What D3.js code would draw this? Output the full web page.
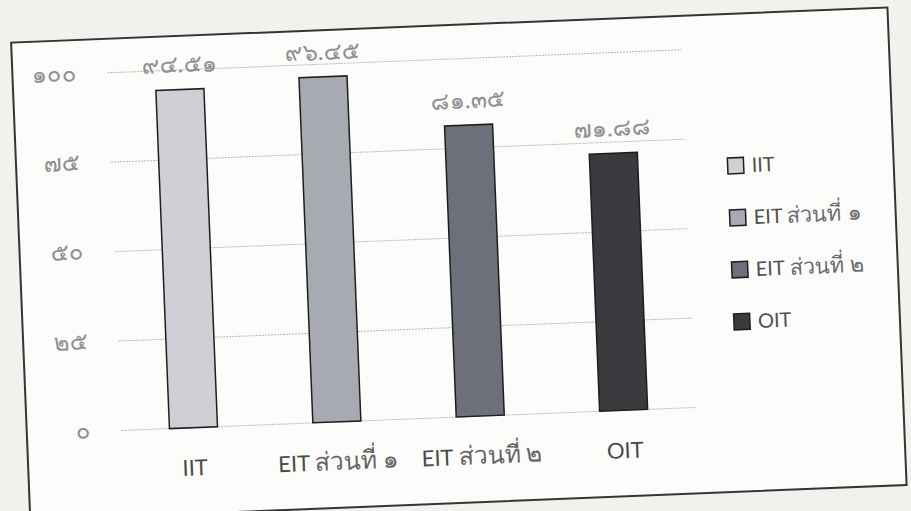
<!DOCTYPE html>
<html>
<head>
<meta charset="utf-8">
<script src="https://cdn.jsdelivr.net/npm/d3@7"></script>
<style>
  html, body { margin: 0; padding: 0; background: #f1f1ee; }
  svg { display: block; }
  text { font-family: Lato, "Noto Sans", sans-serif; }
</style>
</head>
<body>
<svg id="chart" width="911" height="511"></svg>
<script>
// Score per test section
const categories = ["IIT", "EIT ส่วนที่ ๑", "EIT ส่วนที่ ๒", "OIT"];
const values = [94.51, 96.45, 81.35, 71.88];
const barColors = ["#cfd0d5", "#a8aab2", "#6d707a", "#3a3a3f"];
const yTicks = [0, 25, 50, 75, 100];
const yTickLabels = ["๐", "๒๕", "๕๐", "๗๕", "๑๐๐"];

const thaiDigits = "๐๑๒๓๔๕๖๗๘๙";
const toThai = s => String(s).replace(/[0-9]/g, d => thaiDigits[+d]);

// Thai glyphs in the fallback face run small, so Thai runs get their own size
function mixedText(textSel, latinSize, thaiSize) {
  textSel.each(function(str) {
    const t = d3.select(this);
    str.split(/([\u0E00-\u0E7F]+)/).filter(s => s.length).forEach(part => {
      const isThai = /[\u0E00-\u0E7F]/.test(part);
      t.append("tspan")
        .attr("font-size", isThai ? thaiSize : latinSize)
        .attr("fill-opacity", isThai ? 0.85 : 1)
        .text(part);
    });
  });
}

const svg = d3.select("#chart");

// Whole sheet sits slightly askew on the page
const page = svg.append("g").attr("transform", "rotate(-2.3, 455, 255)");

// Chart frame
page.append("rect")
  .attr("x", 20).attr("y", 25).attr("width", 877).attr("height", 478)
  .attr("fill", "#fcfcfb").attr("stroke", "#353535").attr("stroke-width", 2);

const x = d3.scaleBand().domain(categories).range([115, 689]).paddingInner(0.665).paddingOuter(0.3325);
const y = d3.scaleLinear().domain([0, 100]).range([417, 59]);

// Gridlines
page.append("g").selectAll("line").data(yTicks).join("line")
  .attr("x1", 115).attr("x2", 689)
  .attr("y1", d => y(d)).attr("y2", d => y(d))
  .attr("stroke", "#b8b8b8").attr("stroke-width", 1)
  .attr("stroke-dasharray", "2,1");

// Y axis labels
page.append("g").selectAll("text").data(yTicks).join("text")
  .attr("x", 84).attr("y", d => y(d) + 7)
  .attr("text-anchor", "end")
  .attr("font-size", 24).attr("fill", "#909090")
  .text((d, i) => yTickLabels[i]);

// Bars
page.append("g").selectAll("rect").data(values).join("rect")
  .attr("x", (d, i) => x(categories[i]))
  .attr("width", x.bandwidth())
  .attr("y", d => y(d))
  .attr("height", d => y(0) - y(d))
  .attr("fill", (d, i) => barColors[i])
  .attr("stroke", "#1e1e1e").attr("stroke-width", 1.5);

// Value labels
page.append("g").selectAll("text").data(values).join("text")
  .attr("x", (d, i) => x(categories[i]) + x.bandwidth() / 2)
  .attr("y", d => y(d) - 17)
  .attr("text-anchor", "middle")
  .attr("font-size", 24).attr("fill", "#909090")
  .text(d => toThai(d.toFixed(2)));

// Category labels
page.append("g").selectAll("text").data(categories).join("text")
  .attr("x", d => x(d) + x.bandwidth() / 2)
  .attr("y", 465)
  .attr("text-anchor", "middle")
  .attr("fill", "#4a4a4a")
  .call(mixedText, 22, 25);

// Legend
const legend = page.append("g").selectAll("g").data(categories).join("g")
  .attr("transform", (d, i) => `translate(731, ${177 + i * 52})`);
legend.append("rect")
  .attr("x", 0).attr("y", -8).attr("width", 16).attr("height", 16)
  .attr("fill", (d, i) => barColors[i])
  .attr("stroke", "#1e1e1e").attr("stroke-width", 1.5);
legend.append("text")
  .attr("x", 24).attr("y", 7)
  .attr("fill", "#505050")
  .call(mixedText, 20, 22);
</script>
</body>
</html>
